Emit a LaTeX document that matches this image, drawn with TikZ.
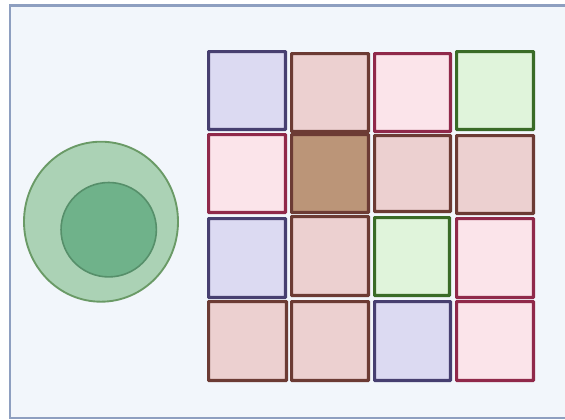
\documentclass[tikz,border=0pt]{standalone}
\usetikzlibrary{shapes.geometric}
\definecolor{bgfill}{HTML}{F2F6FB}
\definecolor{bgline}{HTML}{8E9FC0}
\definecolor{lavfill}{HTML}{DCDAF2}
\definecolor{lavline}{HTML}{473F70}
\definecolor{pinkfill}{HTML}{FBE4EA}
\definecolor{pinkline}{HTML}{90294A}
\definecolor{rosefill}{HTML}{ECD0D0}
\definecolor{roseline}{HTML}{6C3B34}
\definecolor{brownfill}{HTML}{BB9578}
\definecolor{greenfill}{HTML}{E0F4DB}
\definecolor{greenline}{HTML}{3A6B27}
\definecolor{outerfill}{HTML}{ABD2B5}
\definecolor{outerline}{HTML}{6A9A66}
\definecolor{innerfill}{HTML}{6FB28A}
\definecolor{innerline}{HTML}{568F6A}
\tikzset{
  cell/.style={draw, line width=2.4pt, rounded corners=0.4pt, inner sep=0pt, anchor=north west},
  lav/.style={cell, fill=lavfill, draw=lavline},
  pnk/.style={cell, fill=pinkfill, draw=pinkline},
  ros/.style={cell, fill=rosefill, draw=roseline},
  brn/.style={cell, fill=brownfill, draw=roseline},
  grn/.style={cell, fill=greenfill, draw=greenline},
}
% #2,#3: outer top-left (px); #4,#5: outer width/height (px)
\newcommand{\cellat}[6]{\node[#1, minimum width={(#4-3.2)*0.75pt}, minimum height={(#5-3.2)*0.75pt}] (#6) at (#2,#3) {};}
\begin{document}
\begin{tikzpicture}[x=0.75pt,y=-0.75pt]
\useasboundingbox (0,0) rectangle (565,419);
\begin{scope}
\clip (0,0) rectangle (565,419);
\draw[fill=bgfill, draw=bgline, line width=2pt] (10,5.5) rectangle (580,418);
\end{scope}
% circles
\node[ellipse, draw=outerline, fill=outerfill, line width=1.4pt, minimum width=115.5pt, minimum height=120pt, inner sep=0pt] (outer) at (101,221.7) {};
\node[ellipse, draw=innerline, fill=innerfill, line width=1.2pt, minimum width=71.5pt, minimum height=70.8pt, inner sep=0pt] (inner) at (108.7,229.7) {};
% column 1
\cellat{lav}{207}{50}{80}{81}{c11}
\cellat{pnk}{207}{133}{80}{81}{c21}
\cellat{lav}{207}{217}{80}{82}{c31}
\cellat{ros}{207}{300}{81}{82}{c41}
% column 2
\cellat{ros}{290}{52}{80}{81}{c12}
\cellat{brn}{290}{133}{80}{81}{c22}
\cellat{ros}{290}{215}{80}{82}{c32}
\cellat{ros}{290}{300}{80}{82}{c42}
% column 3
\cellat{pnk}{373}{52}{79}{81}{c13}
\cellat{ros}{373}{134}{79}{79}{c23}
\cellat{grn}{373}{216}{78}{81}{c33}
\cellat{lav}{373}{300}{79}{82}{c43}
% column 4
\cellat{grn}{455}{50}{80}{81}{c14}
\cellat{ros}{455}{134}{80}{81}{c24}
\cellat{pnk}{455}{217}{80}{82}{c34}
\cellat{pnk}{455}{300}{80}{82}{c44}
\end{tikzpicture}
\end{document}
